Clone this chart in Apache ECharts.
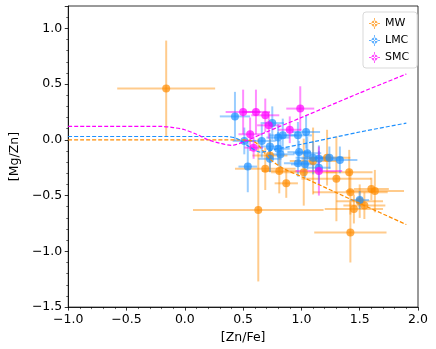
<!DOCTYPE html>
<html>
<head>
<meta charset="utf-8">
<script src="https://cdn.jsdelivr.net/npm/echarts@6/dist/echarts.min.js"></script>
<style>
    html, body { margin: 0; padding: 0; background: #fff; }
    #chart { width: 436px; height: 349px; }
</style>
</head>
<body>
<div id="chart"></div>
<script>
// MW
const mwX = [-0.16, 0.73, 0.69, 0.81, 0.87, 1.02, 1.10, 1.22, 1.30, 1.41, 1.42, 1.60, 1.63, 1.54, 1.45, 1.50, 0.63, 1.42]
const mwY = [0.46, -0.14, -0.26, -0.28, -0.39, -0.29, -0.19, -0.16, -0.35, -0.29, -0.47, -0.44, -0.46, -0.59, -0.62, -0.55, -0.63, -0.83]
const mwXerr = [0.42, 0.15, 0.26, 0.15, 0.1, 0.28, 0.2, 0.2, 0.3, 0.2, 0.32, 0.15, 0.25, 0.18, 0.25, 0.2, 0.56, 0.31]
const mwYerr = [0.43, 0.15, 0.19, 0.2, 0.13, 0.3, 0.3, 0.25, 0.38, 0.2, 0.2, 0.1, 0.19, 0.12, 0.13, 0.15, 0.64, 0.27]

// LMC
const lmcX = [0.43, 0.75, 0.84, 0.80, 0.97, 1.04, 0.51, 0.66, 0.73, 0.80, 0.73, 0.82, 0.98, 1.05, 1.10, 0.97, 1.03, 1.15, 1.24, 1.33, 1.15, 0.54, 1.50]
const lmcY = [0.21, 0.15, 0.04, 0.02, 0.04, 0.07, -0.01, -0.01, -0.06, -0.08, -0.17, -0.13, -0.11, -0.12, -0.16, -0.21, -0.22, -0.17, -0.16, -0.18, -0.25, -0.24, -0.54]
const lmcXerr = [0.13, 0.1, 0.12, 0.1, 0.12, 0.12, 0.1, 0.12, 0.1, 0.1, 0.1, 0.12, 0.1, 0.12, 0.15, 0.12, 0.12, 0.15, 0.12, 0.15, 0.1, 0.08, 0.08]
const lmcYerr = [0.22, 0.15, 0.15, 0.12, 0.12, 0.15, 0.12, 0.15, 0.12, 0.15, 0.12, 0.12, 0.1, 0.15, 0.15, 0.12, 0.12, 0.12, 0.1, 0.12, 0.15, 0.23, 0.08]

// SMC
const smcX = [0.50, 0.61, 0.69, 0.99, 0.72, 0.90, 0.56, 0.59, 1.15]
const smcY = [0.25, 0.25, 0.22, 0.28, 0.13, 0.09, 0.05, -0.07, -0.28]
const smcXerr = [0.15, 0.12, 0.12, 0.12, 0.1, 0.1, 0.1, 0.08, 0.2]
const smcYerr = [0.2, 0.2, 0.15, 0.2, 0.12, 0.12, 0.15, 0.1, 0.22]

// model curves (dashed)
const mwModelX = [-1.0, 0.45, 0.55, 0.6, 0.65, 0.7, 0.75, 0.85, 1.0, 1.5, 1.9]
const mwModelY = [0.0, 0.0, -0.005, -0.02, -0.07, -0.14, -0.19, -0.26, -0.33, -0.57, -0.76]
const lmcModelX = [-1.0, 0.35, 0.45, 0.55, 0.65, 0.8, 1.0, 1.5, 1.9]
const lmcModelY = [0.03, 0.03, 0.01, -0.06, -0.11, -0.08, -0.04, 0.07, 0.15]
const smcModelX = [-1.0, -0.2, -0.1, 0.0, 0.1, 0.2, 0.3, 0.4, 0.5, 0.7, 1.0, 1.5, 1.9]
const smcModelY = [0.12, 0.12, 0.11, 0.09, 0.05, 0.0, -0.03, -0.05, -0.02, 0.07, 0.2, 0.42, 0.59]

const cMW = '#ff8c00'
const cLMC = '#1e90ff'
const cSMC = '#ff00ff'

const legendIcon = 'path://M4.6,0h0.8v10h-0.8z M0,4.6h10v0.8h-10z M5,2.2a2.8,2.8 0 1,0 0.001,0z'

function zip(xs, ys) {
    return xs.map((x, i) => [x, ys[i]])
}

function errSeries(name, color, xs, ys, xe, ye) {
    return {
        name: name,
        type: 'custom',
        clip: true,
        silent: true,
        z: 2,
        data: xs.map((x, i) => [x, ys[i], xe[i], ye[i]]),
        encode: { x: 0, y: 1 },
        renderItem(params, api) {
            let x = api.value(0), y = api.value(1), ex = api.value(2), ey = api.value(3)
            let l = api.coord([x - ex, y]), r = api.coord([x + ex, y])
            let t = api.coord([x, y + ey]), b = api.coord([x, y - ey])
            let style = { stroke: color, lineWidth: 2, opacity: 0.45 }
            return {
                type: 'group',
                children: [
                    { type: 'line', shape: { x1: l[0], y1: l[1], x2: r[0], y2: r[1] }, style: style },
                    { type: 'line', shape: { x1: t[0], y1: t[1], x2: b[0], y2: b[1] }, style: style },
                ],
            }
        },
    }
}

function pointSeries(name, color, xs, ys) {
    return {
        name: name,
        type: 'scatter',
        symbol: 'circle',
        symbolSize: 8,
        z: 3,
        itemStyle: { color: color, opacity: 0.7 },
        data: zip(xs, ys),
    }
}

function modelSeries(name, color, xs, ys) {
    return {
        name: name + ' model',
        type: 'line',
        smooth: 0.3,
        symbol: 'none',
        z: 4,
        lineStyle: { color: color, width: 1.2, type: [4, 2] },
        data: zip(xs, ys),
    }
}

const axisCommon = {
    type: 'value',
    interval: 0.5,
    nameLocation: 'middle',
    nameTextStyle: { fontFamily: 'DejaVu Sans', fontSize: 12.5, color: '#000' },
    axisLine: { show: true, onZero: false, lineStyle: { color: '#000', width: 0.8 } },
    axisTick: { show: true, inside: false, length: 3.5, lineStyle: { color: '#000', width: 0.8 } },
    minorTick: { show: true, splitNumber: 5, length: 2, lineStyle: { color: '#000', width: 0.6 } },
    splitLine: { show: false },
    axisLabel: {
        fontFamily: 'DejaVu Sans',
        fontSize: 12.5,
        color: '#000',
        formatter: v => (v < 0 ? '\u2212' : '') + Math.abs(v).toFixed(1),
    },
}

let option = {
    animation: false,
    backgroundColor: '#fff',
    grid: {
        left: 60,
        right: 18,
        top: 6,
        bottom: 40,
        show: true,
        borderColor: '#000',
        borderWidth: 0.8,
    },
    legend: {
        left: 363,
        top: 12,
        orient: 'vertical',
        data: [
            { name: 'MW', icon: legendIcon, itemStyle: { color: cMW, opacity: 0.7 } },
            { name: 'LMC', icon: legendIcon, itemStyle: { color: cLMC, opacity: 0.7 } },
            { name: 'SMC', icon: legendIcon, itemStyle: { color: cSMC, opacity: 0.7 } },
        ],
        itemWidth: 11,
        itemHeight: 11,
        itemGap: 6,
        padding: [6, 8, 5, 6],
        borderColor: '#d9d9d9',
        borderWidth: 1,
        borderRadius: 3,
        backgroundColor: 'rgba(255,255,255,0.8)',
        textStyle: { fontFamily: 'DejaVu Sans', fontSize: 11, color: '#000' },
    },
    xAxis: {
        ...axisCommon,
        min: -1.0,
        max: 2.0,
        name: '[Zn/Fe]',
        nameGap: 22,
        axisLabel: { ...axisCommon.axisLabel, margin: 6 },
    },
    yAxis: {
        ...axisCommon,
        min: -1.5,
        max: 1.2,
        name: '[Mg/Zn]',
        nameGap: 38,
        axisLabel: { ...axisCommon.axisLabel, margin: 6, showMaxLabel: false },
    },
    series: [
        errSeries('MW', cMW, mwX, mwY, mwXerr, mwYerr),
        pointSeries('MW', cMW, mwX, mwY),
        errSeries('LMC', cLMC, lmcX, lmcY, lmcXerr, lmcYerr),
        pointSeries('LMC', cLMC, lmcX, lmcY),
        errSeries('SMC', cSMC, smcX, smcY, smcXerr, smcYerr),
        pointSeries('SMC', cSMC, smcX, smcY),
        modelSeries('MW', cMW, mwModelX, mwModelY),
        modelSeries('LMC', cLMC, lmcModelX, lmcModelY),
        modelSeries('SMC', cSMC, smcModelX, smcModelY),
    ],
}

let myChart = echarts.init(document.getElementById('chart'))
myChart.setOption(option, true)
</script>
</body>
</html>
